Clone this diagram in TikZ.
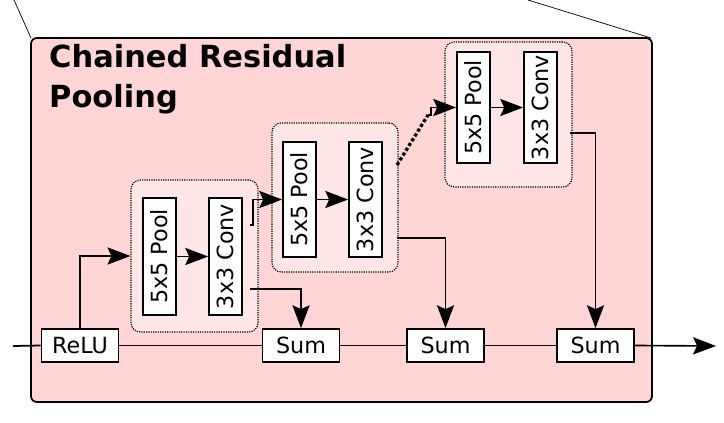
\documentclass[tikz,border=0pt]{standalone}
\usepackage{fontspec}
\setmainfont{DejaVu Sans}
\usetikzlibrary{arrows.meta}
\definecolor{pinkbg}{HTML}{FFD5D5}
\definecolor{pinkgr}{HTML}{FFE6E6}
\begin{document}
\begin{tikzpicture}[x=0.03cm,y=-0.03cm,
  blk/.style={draw,fill=white,line width=1.5pt,inner sep=0pt,font=\fontsize{19}{19}\selectfont},
  vblk/.style={blk,minimum height=0.99cm,minimum width=3.51cm,rotate=90},
  hblk/.style={blk,minimum width=2.31cm,minimum height=0.99cm},
  grp/.style={draw,densely dotted,fill=pinkgr,rounded corners=8pt,line width=1pt},
  arr/.style={line width=1.4pt,-{Stealth[scale=2.1,inset=1.6pt]}},
  mainln/.style={line width=1.5pt}]
\useasboundingbox (0,0) rectangle (724,423);
\coordinate (tl1) at (14,0); \coordinate (tl2) at (31,38);
\coordinate (tr1) at (528,0); \coordinate (tr2) at (651,38);
\draw[line width=0.6pt] (tl1) -- (tl2);
\draw[line width=0.6pt] (tr1) -- (tr2);
\draw[fill=pinkbg,line width=1.5pt,rounded corners=5pt] (31,38) rectangle (652,402);
\node[anchor=north west,align=left,font=\fontsize{26}{34}\selectfont\bfseries,inner sep=0pt] (title) at (49,44) {Chained Residual\\Pooling};
% groups
\node[grp,minimum width=3.81cm,minimum height=4.56cm] (g1) at (194.5,256) {};
\node[grp,minimum width=3.78cm,minimum height=4.47cm] (g2) at (335,197.5) {};
\node[grp,minimum width=3.81cm,minimum height=4.35cm] (g3) at (508.5,114.5) {};
\node[vblk] (p1) at (159.5,256.5) {5x5 Pool};
\node[vblk] (c1) at (225.5,256.5) {3x3 Conv};
\node[vblk,minimum width=3.45cm] (p2) at (299.5,199.5) {5x5 Pool};
\node[vblk,minimum width=3.45cm] (c2) at (365.5,199.5) {3x3 Conv};
\node[vblk,minimum width=3.33cm] (p3) at (473.5,107.5) {5x5 Pool};
\node[vblk,minimum width=3.33cm] (c3) at (540.5,107.5) {3x3 Conv};
\node[hblk] (relu) at (80,345.5) {ReLU};
\node[hblk] (s1) at (301,345.5) {Sum};
\node[hblk] (s2) at (445.5,345.5) {Sum};
\node[hblk] (s3) at (595.5,345.5) {Sum};
\coordinate (in) at (13,346);
\coordinate (out) at (716,346);
% main line
\draw[mainln] (in) -- (relu.west);
\draw[mainln] (relu.east) -- (s1.west);
\draw[mainln] (s1.east) -- (s2.west);
\draw[mainln] (s2.east) -- (s3.west);
\draw[arr] (s3.east) -- (out);
% branches
\draw[arr] (relu.north) |- (g1.west);
\draw[arr] (p1.south) -- (c1.north);
\draw[arr] (p2.south) -- (c2.north);
\draw[arr] (p3.south) -- (c3.north);
\draw[arr] (250,289) -| (s1.north);
\draw[arr] (397,238) -| (s2.north);
\draw[arr] (570,133) -| (s3.north);
\draw[arr] (250,225) -- (253,225) |- (p2.north);
\draw[line width=2.8pt,dotted] (397,165) -- (428,115);
\draw[arr] (428,115) -- (431,115) |- (p3.north);
\end{tikzpicture}
\end{document}
